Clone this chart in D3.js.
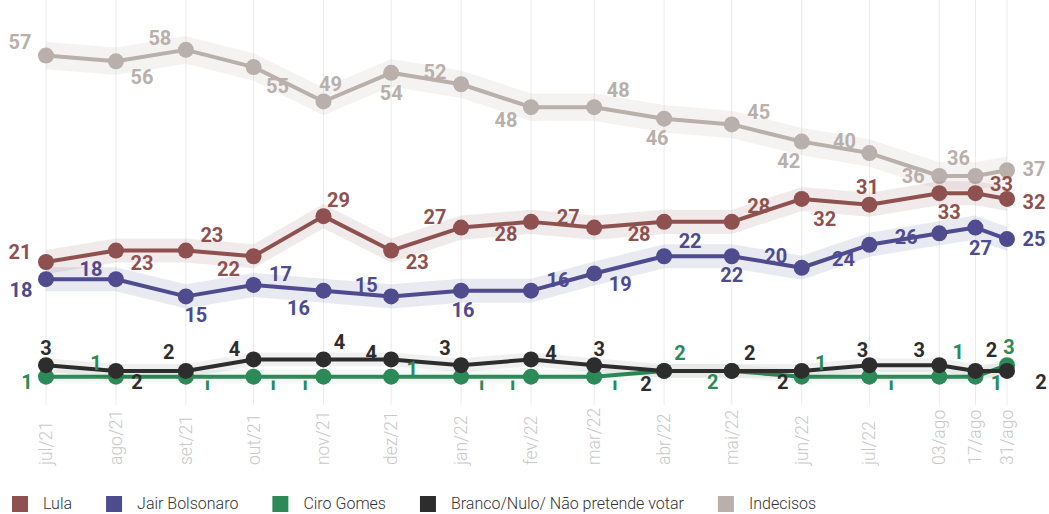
<!DOCTYPE html>
<html>
<head>
<meta charset="utf-8">
<script src="https://cdn.jsdelivr.net/npm/d3@7"></script>
<style>
  html, body { margin: 0; padding: 0; background: #ffffff; }
  svg { display: block; }
</style>
</head>
<body>
<svg id="chart" width="1049" height="514"></svg>
<script>
// ---------- DATA ----------
const dates = ["2021-07-01","2021-08-01","2021-09-01","2021-10-01","2021-11-01","2021-12-01",
  "2022-01-01","2022-02-01","2022-03-01","2022-04-01","2022-05-01","2022-06-01","2022-07-01",
  "2022-08-01","2022-08-17","2022-08-31"];
const tickLabels = ["jul/21","ago/21","set/21","out/21","nov/21","dez/21","jan/22","fev/22",
  "mar/22","abr/22","mai/22","jun/22","jul/22","03/ago","17/ago","31/ago"];
const lula      = [21,23,23,22,29,23,27,28,27,28,28,32,31,33,33,32];
const bolsonaro = [18,18,15,17,16,15,16,16,19,22,22,20,24,26,27,25];
const ciro      = [1,1,1,1,1,1,1,1,1,2,2,1,1,1,1,3];
const branco    = [3,2,2,4,4,4,3,4,3,2,2,2,3,3,2,2];
const indecisos = [57,56,58,55,49,54,52,48,48,46,45,42,40,36,36,37];
const seriesNames = ["Lula","Jair Bolsonaro","Ciro Gomes","Branco/Nulo/ Não pretende votar","Indecisos"];

// ---------- LABEL PLACEMENT (offsets from point, px) ----------
const offIndecisos = [[-26,-14],[26,16],[-26,-12],[24,19],[7,-17],[0,20],[-26,-12],[-25,13],
  [24,-17],[-7,19],[27,-12],[-13,19],[-25,-12],[-26,0],[-17,-18],[27,-1]];
const offLula = [[-26,-10],[26,12],[26,-16],[-25,13],[15,-16],[26,11],[-26,-11],[-25,12],
  [-26,-11],[-25,12],[27,-16],[23,20],[-2,-18],[10,19],[26,-9],[27,3]];
const offBolsonaro = [[-25,11],[-25,-10],[10,19],[27,-11],[-25,17],[-25,-11],[2,19],[27,-11],
  [26,11],[26,-15],[0,19],[-26,-12],[-26,14],[-33,4],[5,20],[27,0]];
const offCiro = [[-19,5],[-20,-14],[21,6,1],[19,6,1],[-19,6,1],[21,-8],[20,6,1],[-19,6,1],
  [20,6,1],[16,-18],[-19,11],[19,-14],[21,6,1],[19,-25],[21,6],[2,-18]];
const offBranco = [[0,-17],[21,11],[-17,-19],[-19,-10],[16,-17],[-20,-6],[-16,-17],[20,-6],
  [5,-16],[-18,13],[18,-18],[-19,11],[-7,-15],[-20,-15],[16,-21],[34,11]];

const colors = {
  lula: "#8f514f", bolsonaro: "#4e4b8f", ciro: "#2b8a57", branco: "#2d2d2d", indecisos: "#b9afab"
};
const bandOpacity = { lula: 0.12, bolsonaro: 0.12, ciro: 0.05, branco: 0.07, indecisos: 0.15 };

// ---------- SCALES ----------
const parse = d3.timeParse("%Y-%m-%d");
const dts = dates.map(parse);
const svg = d3.select("#chart");
const x = d3.scaleTime().domain([parse("2021-07-01"), parse("2022-08-31")]).range([46, 1007]);
const y = d3.scaleLinear().domain([0, 60]).range([382.4, 38.4]);

// ---------- GRID ----------
const grid = svg.append("g");
grid.selectAll("line").data(dts).join("line")
  .attr("x1", d => x(d)).attr("x2", d => x(d))
  .attr("y1", 0).attr("y2", 405)
  .attr("stroke", "#ebebeb").attr("stroke-width", 1);

// x tick labels (rotated)
const xAxis = svg.append("g");
xAxis.selectAll("text").data(dts).join("text")
  .attr("transform", d => `translate(${x(d) + 6},465) rotate(-90)`)
  .attr("text-anchor", "start")
  .attr("font-family", "Roboto, sans-serif")
  .attr("font-weight", 300)
  .attr("font-size", 17.5)
  .attr("fill", "#c9c9c9")
  .text((d, i) => tickLabels[i]);

// clip for partially hidden labels
svg.append("defs").append("clipPath").attr("id", "lowclip")
  .append("rect").attr("x", 0).attr("y", 380.5).attr("width", 1049).attr("height", 40);

// ---------- SERIES ----------
const series = [
  { key: "indecisos", values: indecisos, offs: offIndecisos, m: 2.4 },
  { key: "lula", values: lula, offs: offLula, m: 2.1 },
  { key: "bolsonaro", values: bolsonaro, offs: offBolsonaro, m: 2.1 },
  { key: "ciro", values: ciro, offs: offCiro, m: 1.2 },
  { key: "branco", values: branco, offs: offBranco, m: 1.2 }
];
const line = d3.line().x(d => x(d.date)).y(d => y(d.v));

const marks = svg.append("g");
series.forEach(s => {
  const pts = s.values.map((v, i) => ({ date: dts[i], v: v }));
  const area = d3.area().x(d => x(d.date)).y0(d => y(d.v - s.m)).y1(d => y(d.v + s.m));
  const g = marks.append("g");
  g.append("path").datum(pts).attr("d", area)
    .attr("fill", colors[s.key]).attr("fill-opacity", bandOpacity[s.key]);
  g.append("path").datum(pts).attr("d", line)
    .attr("fill", "none").attr("stroke", colors[s.key]).attr("stroke-width", 4)
    .attr("stroke-linejoin", "round");
  g.selectAll("circle").data(pts).join("circle")
    .attr("cx", d => x(d.date)).attr("cy", d => y(d.v)).attr("r", 8)
    .attr("fill", colors[s.key]);
});

const labels = svg.append("g");
series.forEach(s => {
  s.values.forEach((v, i) => {
    const o = s.offs[i];
    const t = labels.append("text")
      .attr("x", x(dts[i]) + o[0])
      .attr("y", y(v) + o[1])
      .attr("text-anchor", "middle")
      .attr("dominant-baseline", "central")
      .attr("font-family", "Roboto, sans-serif")
      .attr("font-weight", 700)
      .attr("font-size", 20)
      .attr("fill", colors[s.key])
      .text(v);
    if (o[2]) t.attr("clip-path", "url(#lowclip)");
  });
});

// ---------- LEGEND ----------
const legendKeys = ["lula","bolsonaro","ciro","branco","indecisos"];
const legend = svg.append("g");
let lx = 12;
legendKeys.forEach((k, i) => {
  legend.append("rect").attr("x", lx).attr("y", 496).attr("width", 16).attr("height", 16)
    .attr("fill", colors[k]);
  const t = legend.append("text").attr("x", lx + 31).attr("y", 509)
    .attr("font-family", "Roboto, sans-serif").attr("font-size", 16).attr("font-weight", 300)
    .attr("fill", "#333").text(seriesNames[i]);
  lx += 31 + t.node().getComputedTextLength() + 34;
});
</script>
</body>
</html>
